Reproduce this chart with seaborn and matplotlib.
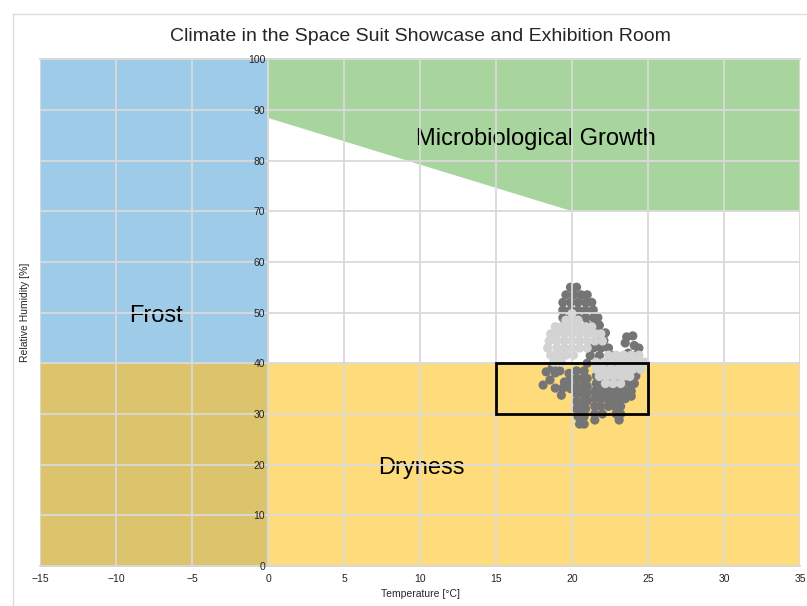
import matplotlib.pyplot as plt
import matplotlib.patches as mpatches
import matplotlib.lines as mlines
import numpy as np
import pandas as pd
import seaborn as sns

# climate zones (temperature limits in degC, humidity limits in %)
zone_frost_t = [-15, 0]
zone_frost_rh = [40, 100]
zone_dry_rh = [0, 40]
growth_t = [0, 20, 35, 35, 0]
growth_rh = [88.4, 70, 70, 100, 100]
target_t = [15, 25]
target_rh = [30, 40]

# sensor 1 (dark grey) readings, row by row
dark_t = [
    19.9, 20.3,
    19.6, 20.1, 20.6, 21.0,
    19.4, 19.9, 20.4, 20.9, 21.3,
    19.4, 19.9, 20.4, 20.9, 21.4,
    19.4, 19.9, 20.4, 20.9, 21.4, 21.7,
    19.5, 21.0, 21.5, 21.8,
    21.4, 21.9, 22.2,
    21.6, 22.1,
    21.4, 21.9, 22.4,
    21.2, 21.8, 22.6,
    21.0, 22.3, 22.9,
    23.6, 24.0, 23.5, 24.1, 24.4, 23.7, 24.3, 23.9,
    20.3, 20.8,
    20.3, 20.7, 21.0,
    20.3, 20.7, 21.0,
    20.3, 20.7, 21.0,
    20.3, 20.7, 21.0,
    20.3, 20.7, 20.9,
    20.4, 20.8,
    20.5, 20.8,
    19.8, 19.8, 19.9, 19.2,
    18.3, 18.1, 18.55, 18.9, 19.3, 19.4, 19.5, 18.9, 18.7,
    21.6, 22.0, 22.5, 23.0,
    21.6, 22.0, 22.4, 22.9, 23.3, 23.8,
    21.5, 21.9, 22.3, 22.7, 23.1, 23.5, 23.9,
    21.5, 21.9, 22.3, 22.7, 23.1, 23.5,
    21.5, 21.9, 22.4, 22.8, 23.2,
    21.5, 22.0, 22.9, 23.2,
    21.5, 23.1,
    24.2, 24.1, 23.9,
]
dark_rh = [
    55.0, 55.0,
    53.5, 53.5, 53.5, 53.5,
    52.0, 52.0, 52.0, 52.0, 52.0,
    50.5, 50.5, 50.5, 50.5, 50.5,
    49.0, 49.0, 49.0, 49.0, 49.0, 49.0,
    47.5, 47.5, 47.5, 47.5,
    46.0, 46.0, 46.0,
    44.5, 44.5,
    43.0, 43.0, 43.0,
    41.5, 41.5, 41.5,
    40.0, 40.0, 40.0,
    45.2, 45.4, 44.0, 43.5, 43.0, 42.0, 41.8, 40.8,
    38.5, 38.5,
    37.0, 37.0, 37.0,
    35.5, 35.5, 35.5,
    34.0, 34.0, 34.0,
    32.5, 32.5, 32.5,
    31.0, 31.0, 31.0,
    29.5, 29.5,
    28.0, 28.0,
    38.0, 36.5, 35.0, 38.5,
    38.3, 35.7, 36.7, 35.1, 33.7, 35.1, 36.3, 38.1, 39.1,
    37.5, 37.5, 37.5, 37.5,
    36.0, 36.0, 36.0, 36.0, 36.0, 36.0,
    34.5, 34.5, 34.5, 34.5, 34.5, 34.5, 34.5,
    33.0, 33.0, 33.0, 33.0, 33.0, 33.0,
    31.5, 31.5, 31.5, 31.5, 31.5,
    30.0, 30.0, 30.0, 30.0,
    28.8, 28.8,
    37.5, 36.0, 33.5,
]

# sensor 2 (light grey) readings, row by row
light_t = [
    20.0,
    19.6, 20.0, 20.4,
    18.9, 19.3, 19.7, 20.1, 20.5, 20.9, 21.3,
    18.6, 19.0, 19.5, 20.0, 20.5, 21.0, 21.5, 21.9,
    18.5, 19.0, 19.5, 20.0, 20.5, 21.0, 21.5, 22.0,
    18.4, 19.0, 19.5, 20.0, 20.5, 21.0,
    18.6, 19.1, 19.6, 20.1, 22.4, 22.9, 23.4, 23.9, 24.4,
    18.8, 19.3, 21.6, 22.1, 22.6, 23.1, 23.6, 24.1, 24.6, 24.8,
    21.6, 22.0, 22.5, 23.0, 23.5, 24.0, 24.5,
    21.8, 22.3, 22.8, 23.3, 23.8,
    22.2, 22.7, 23.2,
]
light_rh = [
    49.8,
    48.5, 48.5, 48.5,
    47.2, 47.2, 47.2, 47.2, 47.2, 47.2, 47.2,
    45.8, 45.8, 45.8, 45.8, 45.8, 45.8, 45.8, 45.8,
    44.4, 44.4, 44.4, 44.4, 44.4, 44.4, 44.4, 44.4,
    43.0, 43.0, 43.0, 43.0, 43.0, 43.0,
    41.6, 41.6, 41.6, 41.6, 41.6, 41.6, 41.6, 41.6, 41.6,
    40.2, 40.2, 40.2, 40.2, 40.2, 40.2, 40.2, 40.2, 40.2, 40.2,
    38.8, 38.8, 38.8, 38.8, 38.8, 38.8, 38.8,
    37.4, 37.4, 37.4, 37.4, 37.4,
    36.0, 36.0, 36.0,
]

x_ticks = [-15, -10, -5, 0, 5, 10, 15, 20, 25, 30, 35]
y_ticks = [0, 10, 20, 30, 40, 50, 60, 70, 80, 90, 100]

df = pd.DataFrame({
    "temperature": dark_t + light_t,
    "humidity": dark_rh + light_rh,
    "sensor": ["dark"] * len(dark_t) + ["light"] * len(light_t),
})

sns.set_style("whitegrid")
plt.rcParams["font.family"] = ["Liberation Sans", "DejaVu Sans"]

fig = plt.figure(figsize=(8.07, 6.06), dpi=100)
ax = fig.add_axes([0.0496, 0.066, 0.9417, 0.8364])

# background zones
ax.fill_between(zone_frost_t, zone_frost_rh[0], zone_frost_rh[1], color="#9ecbe8", lw=0, zorder=0.5)
ax.fill_between(zone_frost_t, zone_dry_rh[0], zone_dry_rh[1], color="#dcc46d", lw=0, zorder=0.5)
ax.fill_between([0, 35], zone_dry_rh[0], zone_dry_rh[1], color="#fedb7b", lw=0, zorder=0.5)
ax.add_patch(mpatches.Polygon(np.column_stack([growth_t, growth_rh]), closed=True,
                              facecolor="#a8d59e", edgecolor="none", zorder=0.5))

ax.text(17.6, 84.2, "Microbiological Growth", fontsize=17, ha="center", va="center", color="black", zorder=1)
ax.text(-7.4, 49.4, "Frost", fontsize=17, ha="center", va="center", color="black", zorder=1)
ax.text(10.1, 19.3, "Dryness", fontsize=17, ha="center", va="center", color="black", zorder=1)

sns.scatterplot(data=df, x="temperature", y="humidity", hue="sensor",
                palette={"dark": "#757575", "light": "#d3d3d3"},
                s=44, linewidth=0, alpha=1, legend=False, ax=ax, zorder=2)

ax.add_patch(mpatches.Rectangle((target_t[0], target_rh[0]), target_t[1] - target_t[0],
                                target_rh[1] - target_rh[0], fill=False,
                                edgecolor="black", lw=2, zorder=4))

ax.set_axisbelow(False)
ax.grid(True, color="#dadada", lw=1.3, zorder=3)
ax.set_xlim(-15, 35)
ax.set_ylim(0, 100)
ax.set_xticks(x_ticks)
ax.set_yticks(y_ticks)
ax.tick_params(axis="both", length=0, labelsize=7.5, colors="#222222")
ax.tick_params(axis="x", pad=6)
ax.tick_params(axis="y", pad=2)
ax.spines["left"].set_position(("data", 0))
for sp in ax.spines.values():
    sp.set_color("#d0d0d0")
    sp.set_linewidth(1.2)
ax.spines["right"].set_visible(False)

ax.set_xlabel("Temperature [°C]", fontsize=7.5, labelpad=3)
ax.set_ylabel("Relative Humidity [%]", fontsize=7.5)
ax.yaxis.set_label_coords(-0.013, 0.5)
ax.set_title("Climate in the Space Suit Showcase and Exhibition Room", fontsize=14, pad=13)

# figure frame (left and top edges)
fig.add_artist(mlines.Line2D([13 / 807, 13 / 807], [0, 1 - 14 / 606], color="#dddddd", lw=1))
fig.add_artist(mlines.Line2D([13 / 807, 1], [1 - 14 / 606, 1 - 14 / 606], color="#dddddd", lw=1))

fig.savefig("out.png", dpi=100)
